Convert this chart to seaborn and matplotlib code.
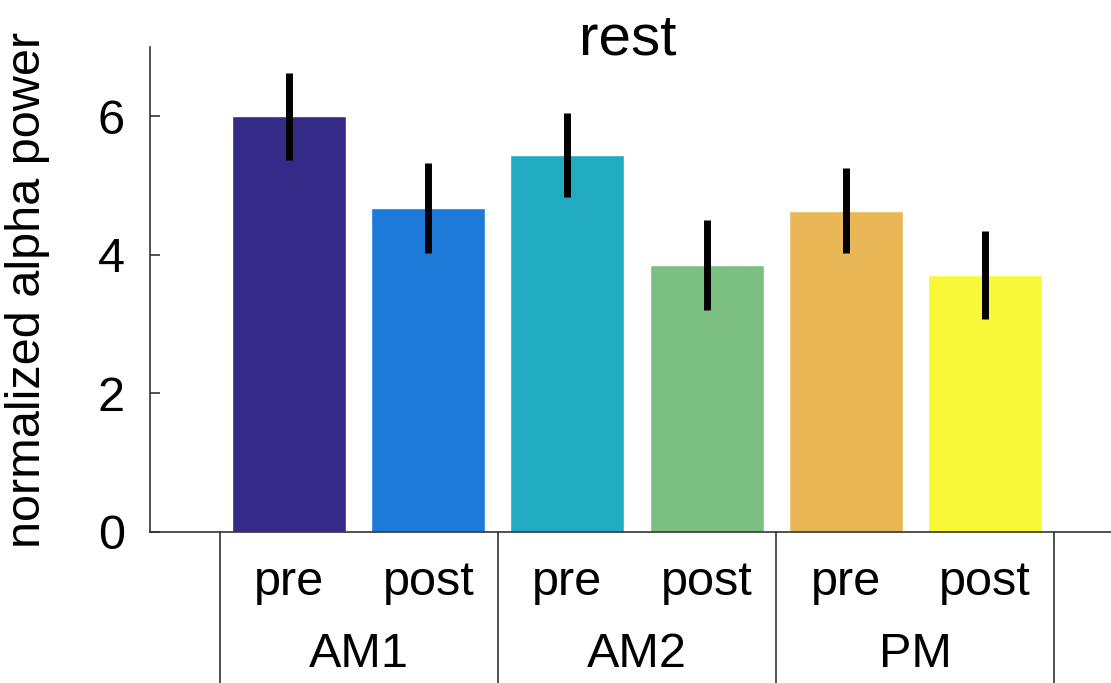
import pandas as pd
import matplotlib.pyplot as plt
import matplotlib.transforms as mtransforms
import seaborn as sns

# stil
sns.set_style("ticks")
plt.rcParams['font.family'] = ['Liberation Sans', 'DejaVu Sans']
plt.rcParams['text.color'] = 'black'
plt.rcParams['axes.labelcolor'] = 'black'

# veri
sessions = ['AM1', 'AM1', 'AM2', 'AM2', 'PM', 'PM']
phases = ['pre', 'post', 'pre', 'post', 'pre', 'post']
means = [6.00, 4.67, 5.44, 3.85, 4.64, 3.71]
sems = [0.63, 0.65, 0.61, 0.65, 0.62, 0.63]
colors = ['#352a87', '#1d7ad9', '#20abc1', '#7cbf82', '#eab756', '#f8f738']
group_names = ['AM1', 'AM2', 'PM']

df = pd.DataFrame({'session': sessions, 'phase': phases, 'mean': means, 'sem': sems})
df['key'] = df['session'] + ' ' + df['phase']

fig = plt.figure(figsize=(11.11, 6.83), dpi=100)
ax = fig.add_axes([0.135, 0.2211, 0.8767, 0.7101])

sns.barplot(data=df, x='key', y='mean', hue='key', palette=colors, width=0.82,
            errorbar=None, legend=False, saturation=1, ax=ax)

xpos = list(range(len(df)))
ax.errorbar(xpos, df['mean'], yerr=df['sem'], fmt='none', ecolor='black',
            elinewidth=5, capsize=0)

ax.set_xlim(-1, len(df))
ax.set_ylim(0, 7)
ax.set_yticks([0, 2, 4, 6])
ax.set_xticks(xpos)
ax.set_xticklabels(df['phase'])
ax.set_xlabel('')
ax.set_ylabel('normalized alpha power', fontsize=35)
ax.yaxis.set_label_coords(-0.1027, 0.5)

ax.tick_params(axis='y', direction='in', length=7, width=1.2, labelsize=35,
               pad=18, color='#333333', labelcolor='black')
ax.tick_params(axis='x', length=0, labelsize=35, pad=20, labelcolor='black')

for side in ['top', 'right']:
    ax.spines[side].set_visible(False)
for side in ['left', 'bottom']:
    ax.spines[side].set_color('#333333')
    ax.spines[side].set_linewidth(1.2)

# grup ayırıcı çizgiler ve etiketler
trans = mtransforms.blended_transform_factory(ax.transData, ax.transAxes)
n_groups = len(group_names)
per_group = len(df) // n_groups
for i in range(n_groups + 1):
    xline = i * per_group - 0.5
    ax.plot([xline, xline], [0, -0.35], color='#333333', lw=1.2,
            transform=trans, clip_on=False)
for i, name in enumerate(group_names):
    xc = i * per_group + (per_group - 1) / 2
    ax.text(xc, -0.278, name, transform=trans, ha='center', va='baseline',
            fontsize=35)

ax.text(0.491, 0.9835, 'rest', transform=ax.transAxes, ha='center',
        va='baseline', fontsize=42)

plt.savefig('out.png', dpi=100)
